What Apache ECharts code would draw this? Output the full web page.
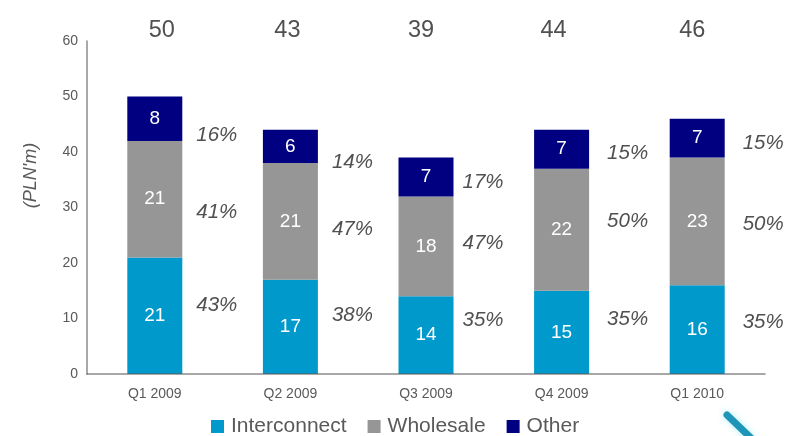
<!DOCTYPE html>
<html>
<head>
<meta charset="utf-8">
<style>html,body{margin:0;padding:0;background:#fff}#chart{width:794px;height:436px}</style>
<script src="https://cdn.jsdelivr.net/npm/echarts@6/dist/echarts.min.js"></script>
</head>
<body>
<div id="chart"></div>
<script>
// Quarterly revenue by segment, PLN millions
const quarters = ['Q1 2009', 'Q2 2009', 'Q3 2009', 'Q4 2009', 'Q1 2010'];
const totals = [50, 43, 39, 44, 46];
const interconnect = [21, 17, 14, 15, 16];
const wholesale = [21, 21, 18, 22, 23];
const other = [8, 6, 7, 7, 7];
const interconnectShare = ['43%', '38%', '35%', '35%', '35%'];
const wholesaleShare = ['41%', '47%', '47%', '50%', '50%'];
const otherShare = ['16%', '14%', '17%', '15%', '15%'];
const yTicks = { min: 0, max: 60, interval: 10 };

// Where the share captions sit on the value scale, and how far right of each bar centre
const interconnectCaptionAt = [12.4, 10.5, 9.6, 9.8, 9.3];
const wholesaleCaptionAt = [29.2, 26.0, 23.5, 27.5, 27.0];
const otherCaptionAt = [43.0, 38.1, 34.5, 39.8, 41.6];
const captionShift = [62, 62, 57, 66, 66];
// Horizontal nudge of the total captions above the plot
const totalShift = [7, -3, -5, -8, -5];

const font = '"Liberation Sans", Arial, sans-serif';
const segmentLabel = {
  show: true, position: 'inside', color: '#fff', fontFamily: font, fontSize: 19
};

function segment(name, values, color) {
  return {
    name, type: 'bar', stack: 'revenue', barWidth: 55, data: values,
    itemStyle: { color }, label: segmentLabel, z: 2
  };
}

function shareCaptions(shares, anchors) {
  return {
    type: 'scatter', symbolSize: 0, silent: true, z: 4,
    itemStyle: { opacity: 1 },
    data: shares.map((s, i) => ({
      value: [i, anchors[i]],
      label: {
        show: true, position: 'inside', formatter: s, offset: [captionShift[i], 0],
        color: '#505050', fontFamily: font, fontStyle: 'italic', fontSize: 20.5
      }
    }))
  };
}

function totalCaptions() {
  return {
    type: 'scatter', symbolSize: 0, silent: true, z: 4,
    itemStyle: { opacity: 1 },
    data: totals.map((t, i) => ({
      value: [i, yTicks.max],
      label: {
        show: true, position: 'inside', formatter: String(t), offset: [totalShift[i], -10],
        color: '#505050', fontFamily: font, fontSize: 23.5
      }
    }))
  };
}

const chart = echarts.init(document.getElementById('chart'), null, { renderer: 'canvas' });
chart.setOption({
  animation: false,
  backgroundColor: '#fff',
  grid: { left: 87, top: 41, width: 678, height: 333, containLabel: false },
  legend: {
    left: 206, top: 411, itemWidth: 13, itemHeight: 13, itemGap: 21,
    icon: 'rect',
    data: ['Interconnect', 'Wholesale', 'Other'],
    textStyle: { color: '#595959', fontFamily: font, fontSize: 21, padding: [0, 0, 0, 2] }
  },
  xAxis: {
    type: 'category', data: quarters, z: 5,
    axisLine: { lineStyle: { color: 'rgba(90,90,90,0.7)', width: 1.5 } },
    axisTick: { show: false },
    axisLabel: { color: '#595959', fontFamily: font, fontSize: 14, margin: 13 }
  },
  yAxis: {
    type: 'value', min: yTicks.min, max: yTicks.max, interval: yTicks.interval,
    name: "(PLN'm)", nameLocation: 'middle', nameGap: 47, nameRotate: 90,
    nameTextStyle: { color: '#595959', fontFamily: font, fontStyle: 'italic', fontSize: 18, padding: [0, 0, 0, 64] },
    splitLine: { show: false },
    axisLine: { show: true, lineStyle: { color: '#8c8c8c', width: 1.5 } },
    axisTick: { show: false },
    axisLabel: { color: '#595959', fontFamily: font, fontSize: 14, margin: 9 }
  },
  color: ['#0099cc', '#969696', '#000080'],
  series: [
    segment('Interconnect', interconnect, '#0099cc'),
    segment('Wholesale', wholesale, '#969696'),
    segment('Other', other, '#000080'),
    shareCaptions(interconnectShare, interconnectCaptionAt),
    shareCaptions(wholesaleShare, wholesaleCaptionAt),
    shareCaptions(otherShare, otherCaptionAt),
    totalCaptions()
  ],
  // Brush-stroke accent in the lower right corner
  graphic: [{
    type: 'line', silent: true,
    shape: { x1: 727, y1: 415, x2: 751, y2: 438 },
    style: { stroke: '#1f96b8', lineWidth: 7, lineCap: 'round', shadowBlur: 6, shadowColor: 'rgba(120,230,240,0.6)' }
  }]
});
</script>
</body>
</html>
